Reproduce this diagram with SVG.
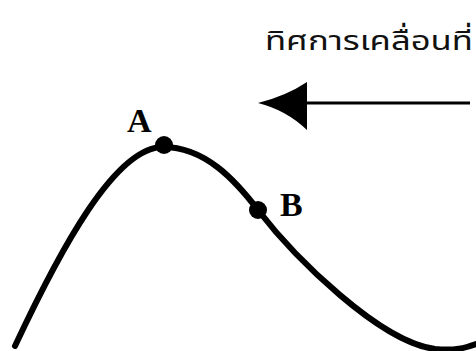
<svg xmlns="http://www.w3.org/2000/svg" width="476" height="351" viewBox="0 0 476 351">
<style>
.lbl{font-family:"Liberation Serif","Times New Roman",serif;font-weight:bold;font-size:34px;fill:#000}
.thai{font-family:"Noto Sans Thai","Noto Sans","DejaVu Sans",sans-serif;font-size:27px;fill:#111}
.dot{fill:#000}
.wave{fill:none;stroke:#000;stroke-width:6;stroke-linecap:round}
</style>
<rect width="476" height="351" fill="#fff"/>
<g id="direction">
<text class="thai" x="265" y="50" textLength="208" lengthAdjust="spacingAndGlyphs">ทิศการเคลื่อนที่</text>
</g>
<g id="connectors">
<line x1="470" y1="103" x2="300" y2="103" stroke="#000" stroke-width="3"/>
<path d="M258,103 Q286,96 307,82 L307,130 Q286,110 258,103 Z" fill="#000"/>
</g>
<g id="wave">
<path class="wave" d="M15,346 C60,250 115,147 163,147 C205,147 235,180 258,210 C295,258 380,342 435,349 C455,351 465,348 476,344"/>
</g>
<g id="pointA">
<circle class="dot" cx="164" cy="145" r="9"/>
<text class="lbl" x="127" y="132">A</text>
</g>
<g id="pointB">
<circle class="dot" cx="258" cy="210" r="9"/>
<text class="lbl" x="280" y="216">B</text>
</g>
</svg>
